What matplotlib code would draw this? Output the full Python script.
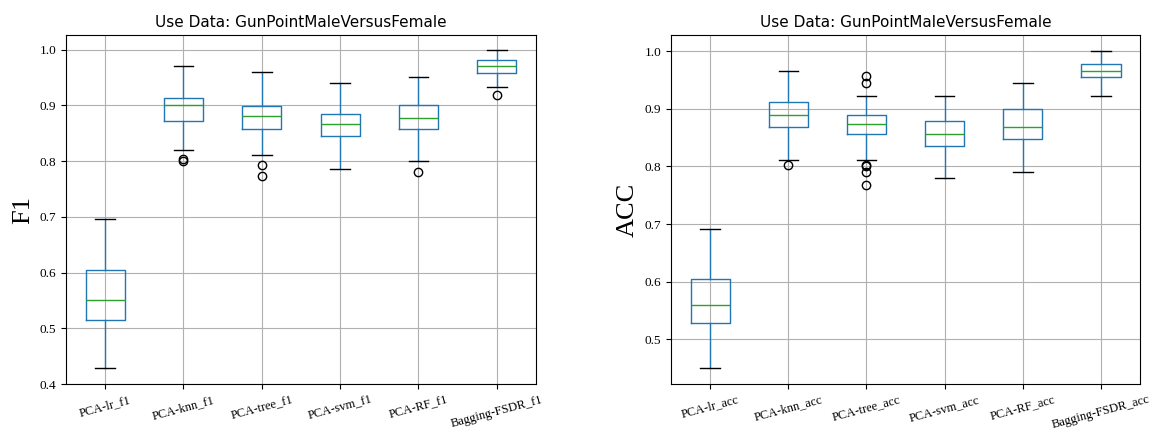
import matplotlib
matplotlib.use('Agg')
import matplotlib.pyplot as plt

dataset = 'GunPointMaleVersusFemale'

# F1 boxplot summaries
f1_labels = ['PCA-lr_f1', 'PCA-knn_f1', 'PCA-tree_f1', 'PCA-svm_f1', 'PCA-RF_f1', 'Bagging-FSDR_f1']
f1_whislo = [0.429, 0.820, 0.810, 0.786, 0.800, 0.932]
f1_q1 = [0.514, 0.871, 0.858, 0.844, 0.858, 0.958]
f1_med = [0.550, 0.900, 0.880, 0.866, 0.878, 0.970]
f1_q3 = [0.605, 0.913, 0.898, 0.885, 0.901, 0.981]
f1_whishi = [0.696, 0.970, 0.960, 0.940, 0.951, 1.000]
f1_fliers = [[], [0.804, 0.800], [0.792, 0.774], [], [0.781], [0.919]]

# ACC boxplot summaries
acc_labels = ['PCA-lr_acc', 'PCA-knn_acc', 'PCA-tree_acc', 'PCA-svm_acc', 'PCA-RF_acc', 'Bagging-FSDR_acc']
acc_whislo = [0.450, 0.812, 0.812, 0.780, 0.791, 0.923]
acc_q1 = [0.528, 0.868, 0.856, 0.835, 0.847, 0.956]
acc_med = [0.560, 0.889, 0.873, 0.856, 0.868, 0.966]
acc_q3 = [0.604, 0.912, 0.889, 0.879, 0.900, 0.978]
acc_whishi = [0.692, 0.966, 0.923, 0.923, 0.945, 1.000]
acc_fliers = [[], [0.802], [0.957, 0.945, 0.803, 0.800, 0.791, 0.768], [], [], []]


def make_stats(labels, whislo, q1, med, q3, whishi, fliers):
    stats = []
    for i in range(len(labels)):
        stats.append({'label': labels[i], 'whislo': whislo[i], 'q1': q1[i], 'med': med[i],
                      'q3': q3[i], 'whishi': whishi[i], 'fliers': fliers[i]})
    return stats


def draw_box(ax, stats, ylabel):
    ax.bxp(stats, widths=0.5,
           boxprops=dict(color='#1f77b4'),
           whiskerprops=dict(color='#1f77b4'),
           medianprops=dict(color='#2ca02c'),
           capprops=dict(color='k'),
           flierprops=dict(marker='o', markerfacecolor='none', markeredgecolor='k'))
    ax.grid(True)
    ax.set_axisbelow(True)
    ax.set_title('Use Data: ' + dataset, fontsize=11, family='DejaVu Sans')
    ax.set_ylabel(ylabel, fontsize=19, family='Liberation Serif')
    for lab in ax.get_xticklabels():
        lab.set_rotation(15)
        lab.set_family('Liberation Serif')
        lab.set_fontsize(9)
    for lab in ax.get_yticklabels():
        lab.set_family('Liberation Serif')
        lab.set_fontsize(9.5)


fig = plt.figure(figsize=(11.57, 4.32), dpi=100)
ax1 = fig.add_axes([0.0570, 0.1111, 0.4062, 0.8072])
ax2 = fig.add_axes([0.5800, 0.1111, 0.4054, 0.8072])

draw_box(ax1, make_stats(f1_labels, f1_whislo, f1_q1, f1_med, f1_q3, f1_whishi, f1_fliers), 'F1')
draw_box(ax2, make_stats(acc_labels, acc_whislo, acc_q1, acc_med, acc_q3, acc_whishi, acc_fliers), 'ACC')
ax1.set_ylim(0.4, 1.0255)

fig.savefig('out.png', dpi=100)
